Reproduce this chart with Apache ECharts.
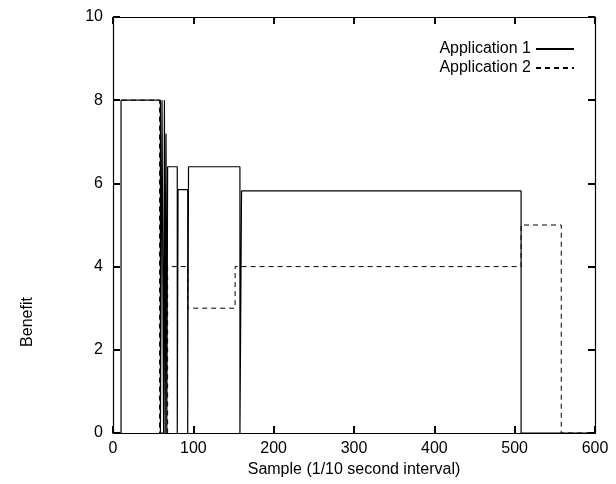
<!DOCTYPE html>
<html>
<head>
<meta charset="utf-8">
<script src="https://cdn.jsdelivr.net/npm/echarts@6/dist/echarts.min.js"></script>
<style>
  html, body { margin: 0; padding: 0; background: #fff; }
  #chart { width: 616px; height: 484px; }
</style>
</head>
<body>
<div id="chart"></div>
<script>
// step points (sample, benefit)
const app1X = [0, 10, 10, 59, 59, 61, 61, 63, 63, 64, 64, 65, 65, 66, 66, 67, 67, 68, 68, 80, 80, 81, 81, 93, 93, 94, 94, 158, 158, 160, 160, 508, 508, 600]
const app1Y = [0, 0, 8, 8, 0, 0, 8, 8, 0, 0, 8, 8, 0, 0, 7.2, 7.2, 0, 0, 6.4, 6.4, 0, 0, 5.85, 5.85, 0, 0, 6.4, 6.4, 0, 0, 5.82, 5.82, 0, 0]
const app2X = [0, 58, 58, 68, 68, 93, 93, 152, 152, 508, 508, 558, 558, 600]
const app2Y = [8, 8, 0, 0, 4, 4, 3, 3, 4, 4, 5, 5, 0, 0]
const seriesNames = ['Application 1', 'Application 2']
const xTicks = [0, 100, 200, 300, 400, 500, 600]
const yTicks = [0, 2, 4, 6, 8, 10]

const font = 'Liberation Sans, Arial, sans-serif'

function pairs(xs, ys) {
  return xs.map((x, i) => [x, ys[i]])
}

const chart = echarts.init(document.getElementById('chart'))

const plotBox = { left: 113, right: 21, top: 17, bottom: 51 }

// grid 0 carries data + labels, grid 1 (same box) only draws the frame and inside ticks
function axisBase(gridIndex, pos, ticks, withLabel) {
  return {
    type: 'value',
    gridIndex: gridIndex,
    position: pos,
    min: ticks[0],
    max: ticks[ticks.length - 1],
    interval: ticks[1] - ticks[0],
    axisLine: { show: !withLabel, onZero: false, lineStyle: { color: '#000', width: 1.2 } },
    axisTick: { show: !withLabel, inside: true, length: 7, lineStyle: { color: '#000', width: 2 } },
    axisLabel: { show: withLabel, fontFamily: font, fontSize: 16, color: '#000' },
    splitLine: { show: false }
  }
}

const xBottom = axisBase(0, 'bottom', xTicks, true)
xBottom.name = 'Sample (1/10 second interval)'
xBottom.nameLocation = 'middle'
xBottom.nameGap = 24
xBottom.nameTextStyle = { fontFamily: font, fontSize: 16, color: '#000' }
const yLeft = axisBase(0, 'left', yTicks, true)
yLeft.axisLabel.margin = 10

chart.setOption({
  animation: false,
  backgroundColor: '#fff',
  grid: [
    Object.assign({}, plotBox),
    Object.assign({}, plotBox)
  ],
  legend: {
    data: seriesNames,
    orient: 'vertical',
    right: 36,
    top: 36,
    align: 'right',
    itemWidth: 38,
    itemHeight: 12,
    itemGap: 3,
    itemStyle: { opacity: 0 },
    textStyle: { fontFamily: font, fontSize: 16, color: '#000' }
  },
  xAxis: [
    xBottom,
    axisBase(1, 'bottom', xTicks, false),
    axisBase(1, 'top', xTicks, false)
  ],
  yAxis: [
    yLeft,
    axisBase(1, 'left', yTicks, false),
    axisBase(1, 'right', yTicks, false)
  ],
  graphic: [
    {
      type: 'text',
      x: 28,
      y: 322,
      rotation: Math.PI / 2,
      style: {
        text: 'Benefit',
        fontFamily: font,
        fontSize: 16,
        fill: '#000',
        align: 'center',
        verticalAlign: 'middle'
      }
    }
  ],
  series: [
    {
      name: seriesNames[0],
      type: 'line',
      xAxisIndex: 0,
      yAxisIndex: 0,
      symbol: 'none',
      data: pairs(app1X, app1Y),
      lineStyle: { color: '#000', width: 1.2 },
      itemStyle: { color: '#000' }
    },
    {
      name: seriesNames[1],
      type: 'line',
      xAxisIndex: 0,
      yAxisIndex: 0,
      symbol: 'none',
      data: pairs(app2X, app2Y),
      lineStyle: { color: '#000', width: 1, type: [5, 4] },
      itemStyle: { color: '#000' }
    }
  ]
})
</script>
</body>
</html>
